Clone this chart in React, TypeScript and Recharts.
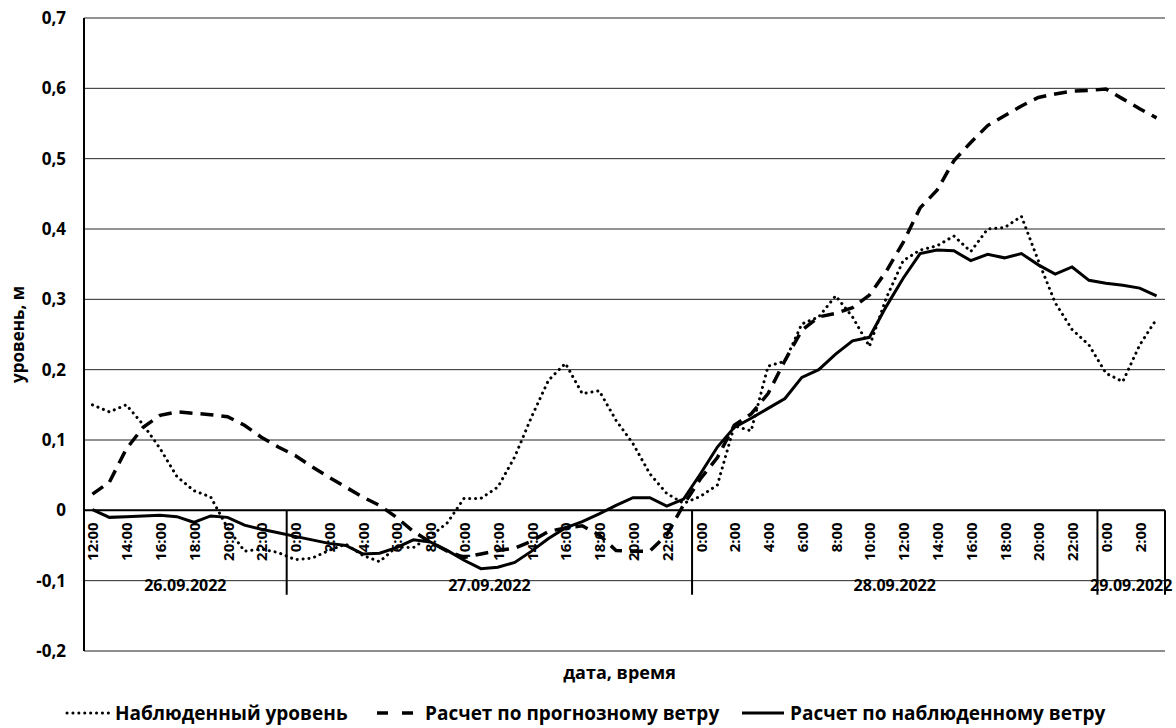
import React from "react";
import { CartesianGrid, Line, LineChart, ReferenceDot, ReferenceLine, XAxis, YAxis } from "recharts";

// hourly categories, 26.09.2022 12:00 .. 29.09.2022 3:00
const TIMES = [
  "12:00", "13:00", "14:00", "15:00", "16:00", "17:00", "18:00", "19:00", "20:00", "21:00", "22:00", "23:00",
  "0:00", "1:00", "2:00", "3:00", "4:00", "5:00", "6:00", "7:00", "8:00", "9:00", "10:00", "11:00",
  "12:00", "13:00", "14:00", "15:00", "16:00", "17:00", "18:00", "19:00", "20:00", "21:00", "22:00", "23:00",
  "0:00", "1:00", "2:00", "3:00", "4:00", "5:00", "6:00", "7:00", "8:00", "9:00", "10:00", "11:00",
  "12:00", "13:00", "14:00", "15:00", "16:00", "17:00", "18:00", "19:00", "20:00", "21:00", "22:00", "23:00",
  "0:00", "1:00", "2:00", "3:00",
];
const DATES = ["26.09.2022", "27.09.2022", "28.09.2022", "29.09.2022"];
// first / last category index of each date
const DATE_SPANS = [[0, 11], [12, 35], [36, 59], [60, 63]];

const OBSERVED = [
  0.15, 0.14, 0.15, 0.122, 0.088, 0.048, 0.028, 0.019, -0.025, -0.058, -0.055, -0.06,
  -0.07, -0.068, -0.057, -0.048, -0.064, -0.073, -0.052, -0.053, -0.037, -0.018, 0.017, 0.017,
  0.033, 0.076, 0.133, 0.185, 0.209, 0.166, 0.17, 0.128, 0.095, 0.052, 0.024, 0.01,
  0.02, 0.036, 0.12, 0.113, 0.205, 0.212, 0.265, 0.275, 0.305, 0.275, 0.233, 0.302,
  0.355, 0.37, 0.376, 0.39, 0.368, 0.4, 0.402, 0.418, 0.355, 0.295, 0.257, 0.235,
  0.195, 0.183, 0.235, 0.272,
];
const FORECAST = [
  0.023, 0.04, 0.087, 0.118, 0.135, 0.14, 0.138, 0.136, 0.133, 0.121, 0.104, 0.09,
  0.078, 0.062, 0.047, 0.033, 0.019, 0.007, -0.01, -0.03, -0.045, -0.058, -0.067, -0.062,
  -0.057, -0.054, -0.044, -0.03, -0.025, -0.022, -0.035, -0.057, -0.058, -0.058, -0.035, 0.008,
  0.045, 0.075, 0.121, 0.137, 0.166, 0.213, 0.256, 0.275, 0.28, 0.288, 0.306, 0.34,
  0.381, 0.43, 0.455, 0.497, 0.523, 0.547, 0.561, 0.575, 0.587, 0.592, 0.596, 0.597,
  0.599, 0.585, 0.571, 0.558,
];
const COMPUTED = [
  0.001, -0.01, -0.009, -0.008, -0.007, -0.009, -0.017, -0.008, -0.01, -0.021, -0.027, -0.032,
  -0.037, -0.042, -0.047, -0.05, -0.062, -0.061, -0.053, -0.042, -0.045, -0.057, -0.071, -0.083,
  -0.081, -0.074, -0.058, -0.04, -0.025, -0.016, -0.005, 0.007, 0.018, 0.018, 0.006, 0.016,
  0.052, 0.09, 0.118, 0.131, 0.145, 0.159, 0.189, 0.2, 0.222, 0.241, 0.246, 0.29,
  0.33, 0.365, 0.37, 0.369, 0.355, 0.364, 0.359, 0.365, 0.349, 0.336, 0.346, 0.327,
  0.323, 0.32, 0.316, 0.305,
];
const Y_TICKS = [-0.2, -0.1, 0, 0.1, 0.2, 0.3, 0.4, 0.5, 0.6, 0.7];

const SERIES = [
  { key: "obs", name: "Наблюденный уровень", width: 3, dash: "0.1 5.8", cap: "round" },
  { key: "fcst", name: "Расчет по прогнозному ветру", width: 3.5, dash: "13 8", cap: "butt" },
  { key: "calc", name: "Расчет по наблюденному ветру", width: 3, dash: undefined, cap: "butt" },
];

const data = TIMES.map((t, i) => ({
  i,
  t,
  obs: OBSERVED[i],
  fcst: FORECAST[i],
  calc: COMPUTED[i],
}));

const FONT = "'Open Sans', 'Noto Sans', sans-serif";

const fmtY = (v: number) => (v === 0 ? "0" : v.toFixed(1).replace(".", ","));

function TimeTick({ viewBox, text }: any) {
  const x = viewBox.x + 6;
  const y = viewBox.y + 12;
  return (
    <text
      x={x}
      y={y}
      transform={`rotate(-90 ${x} ${y})`}
      textAnchor="end"
      fontSize={15}
      fontWeight={700}
      fill="#000"
    >
      {text}
    </text>
  );
}

function DateTick({ viewBox, text }: any) {
  return (
    <text x={viewBox.x} y={viewBox.y + 10.5} textAnchor="middle" fontSize={16} fontWeight={700} fill="#000">
      {text}
    </text>
  );
}

function YTitle({ viewBox }: any) {
  const x = 24;
  const y = viewBox.y + viewBox.height / 2;
  return (
    <text x={x} y={y} transform={`rotate(-90 ${x} ${y})`} textAnchor="middle" fontSize={17} fontWeight={700} fill="#000">
      уровень, м
    </text>
  );
}

function XTitle({ viewBox }: any) {
  return (
    <text x={viewBox.x + viewBox.width / 2 - 5} y={viewBox.y + 28} textAnchor="middle" fontSize={18} fontWeight={700} fill="#000">
      дата, время
    </text>
  );
}

// legend: sample line + text, left = start of text
const LEGEND_POS = [115, 425, 790];

function LegendRow() {
  return (
    <>
      {SERIES.map((s, k) => (
        <div
          key={s.key}
          style={{ position: "absolute", left: LEGEND_POS[k] - 50, top: 701, height: 24, display: "flex", alignItems: "center", whiteSpace: "nowrap" }}
        >
          <svg width={46} height={12} style={{ marginRight: 4 }}>
            <line
              x1={2}
              y1={6}
              x2={44}
              y2={6}
              stroke="#000"
              strokeWidth={s.width}
              strokeDasharray={s.key === "fcst" ? "11 14" : s.dash}
              strokeLinecap={s.cap as any}
            />
          </svg>
          <span style={{ fontSize: 19, fontWeight: 700, lineHeight: "24px" }}>{s.name}</span>
        </div>
      ))}
    </>
  );
}

export default function App() {
  return (
    <div style={{ position: "absolute", left: 0, top: 0, width: 1176, height: 728, background: "#fff", fontFamily: FONT, color: "#000" }}>
      <LineChart width={1176} height={728} data={data} margin={{ top: 18, right: 11, bottom: 0, left: 0 }} style={{ fontFamily: FONT }}>
        <CartesianGrid vertical={false} stroke="#262626" strokeWidth={1} />
        <XAxis
          dataKey="i"
          type="number"
          domain={[-0.5, 63.5]}
          height={77}
          tick={false}
          tickLine={false}
          axisLine={false}
          label={<XTitle />}
        />
        <YAxis
          type="number"
          domain={[-0.2, 0.7]}
          ticks={Y_TICKS}
          width={84}
          tickFormatter={fmtY}
          tickLine={false}
          tickSize={6}
          tickMargin={12}
          axisLine={{ stroke: "#000", strokeWidth: 2 }}
          tick={{ fill: "#000", fontSize: 17, fontWeight: 700 }}
          label={<YTitle />}
        />
        <ReferenceLine y={-0.2} stroke="#8c8c8c" strokeWidth={1.5} />
        <ReferenceLine y={0} stroke="#000" strokeWidth={2} />
        {DATE_SPANS.map(([, b]) => (
          <ReferenceLine
            key={`sep-${b}`}
            segment={[{ x: b + 0.5, y: 0 }, { x: b + 0.5, y: -0.12 }]}
            stroke="#000"
            strokeWidth={2}
            ifOverflow="visible"
          />
        ))}
        {TIMES.map((t, i) =>
          i % 2 === 0 ? (
            <ReferenceDot key={`t-${i}`} x={i} y={0} r={0} fill="none" stroke="none" label={<TimeTick text={t} />} />
          ) : null
        )}
        {DATE_SPANS.map(([a, b], k) => (
          <ReferenceDot
            key={`d-${k}`}
            x={(a + b) / 2}
            y={-0.1}
            r={0}
            fill="none"
            stroke="none"
            ifOverflow="visible"
            label={<DateTick text={DATES[k]} />}
          />
        ))}
        {SERIES.map((s) => (
          <Line
            key={s.key}
            dataKey={s.key}
            name={s.name}
            type="linear"
            stroke="#000"
            strokeWidth={s.width}
            strokeDasharray={s.dash}
            strokeLinecap={s.cap as any}
            dot={false}
            activeDot={false}
            isAnimationActive={false}
          />
        ))}
      </LineChart>
      <LegendRow />
    </div>
  );
}
